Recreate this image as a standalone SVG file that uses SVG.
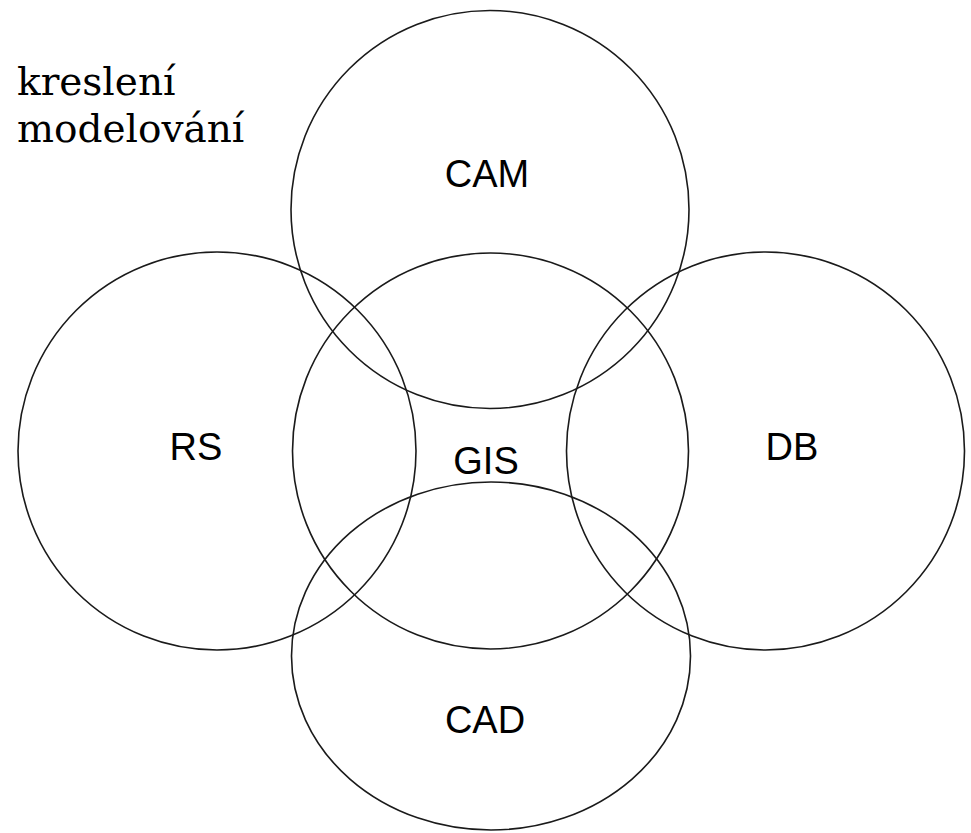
<svg xmlns="http://www.w3.org/2000/svg" width="971" height="833" viewBox="0 0 971 833">
<style>
.c{fill:none;stroke:#1a1a1a;stroke-width:1.6}
.lbl{font-family:"Liberation Sans",Arial,sans-serif;font-size:38px;fill:#000;text-anchor:middle}
.note{font-family:"DejaVu Serif","Liberation Serif",serif;font-size:39px;fill:#000}
</style>
<rect width="971" height="833" fill="#fff"/>
<g id="legend">
<text class="note" x="17" y="95">kreslení</text>
<text class="note" x="17" y="142">modelování</text>
</g>
<g id="node-CAM"><circle class="c" cx="490" cy="209.5" r="199"/><text class="lbl" x="487" y="187">CAM</text></g>
<g id="node-RS"><circle class="c" cx="217" cy="451" r="199"/><text class="lbl" x="196" y="460">RS</text></g>
<g id="node-GIS"><circle class="c" cx="490.5" cy="451" r="198"/><text class="lbl" x="486" y="474">GIS</text></g>
<g id="node-DB"><circle class="c" cx="765.5" cy="451" r="199"/><text class="lbl" x="792" y="460">DB</text></g>
<g id="node-CAD"><ellipse class="c" cx="491" cy="656" rx="199.5" ry="174"/><text class="lbl" x="485" y="733">CAD</text></g>
<g id="connectors"/>
</svg>
